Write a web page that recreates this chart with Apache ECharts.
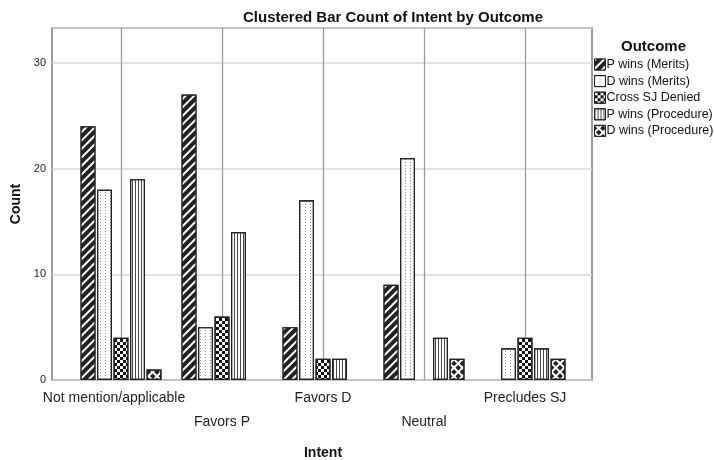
<!DOCTYPE html>
<html>
<head>
<meta charset="utf-8">
<script src="https://cdn.jsdelivr.net/npm/echarts@6/dist/echarts.min.js"></script>
<style>
html,body{margin:0;padding:0;background:#fff;}
#chart{width:714px;height:460px;}
</style>
</head>
<body>
<div id="chart"></div>
<script>
// ---- data ----
var categories = ['Not mention/applicable', 'Favors P', 'Favors D', 'Neutral', 'Precludes SJ'];
var seriesNames = ['P wins (Merits)', 'D wins (Merits)', 'Cross SJ Denied', 'P wins (Procedure)', 'D wins (Procedure)'];
var pWinsMerits    = [24, 27, 5, 9, 0];
var dWinsMerits    = [18, 5, 17, 21, 3];
var crossSJDenied  = [4, 6, 2, 0, 4];
var pWinsProcedure = [19, 14, 2, 4, 3];
var dWinsProcedure = [1, 0, 0, 2, 2];
var yTicks = [0, 10, 20, 30];

var values = [pWinsMerits, dWinsMerits, crossSJDenied, pWinsProcedure, dWinsProcedure];

// ---- styles ----
var fills = ['#222222', '#ffffff', '#ffffff', '#ffffff', '#ffffff'];
var decals = [
  {symbol:'rect', symbolSize:1, color:'#ffffff', dashArrayX:[1,0], dashArrayY:[2,3.5], rotation:-Math.PI/4},
  {symbol:'rect', symbolSize:1, color:'#8a8a8a', dashArrayX:[1,4], dashArrayY:[1,1.5]},
  {symbol:'rect', symbolSize:1, color:'#111111', dashArrayX:[[3,3],[0,3,3,0]], dashArrayY:[3,0]},
  {symbol:'rect', symbolSize:1, color:'#444444', dashArrayX:[1,2], dashArrayY:[4,0]},
  {symbol:'rect', symbolSize:1, color:'#222222', dashArrayX:[3.6,1.1], dashArrayY:[3.6,1.1], rotation:Math.PI/4}
];

var YMAX = 33.3;

var series = values.map(function (arr, k) {
  return {
    name: seriesNames[k],
    type: 'bar',
    xAxisIndex: 1,
    yAxisIndex: 1,
    barWidth: 15,
    barGap: '10%',
    data: arr.map(function (v) { return v === 0 ? '-' : v; }),
    itemStyle: {color: fills[k], borderColor: '#222', borderWidth: 1.2, decal: decals[k]},
    emphasis: {disabled: true},
    animation: false,
    z: 2
  };
});
// vertical reference lines at category centres, in their own overlay grid (drawn under bars)
series.push({
  name: '__grid',
  type: 'line',
  xAxisIndex: 2,
  yAxisIndex: 2,
  data: [],
  silent: true,
  z: 1,
  markLine: {
    silent: true,
    symbol: ['none', 'none'],
    z: 1,
    label: {show: false},
    lineStyle: {color: '#9a9a9a', width: 1.3, type: 'solid'},
    data: categories.map(function (c) { return {xAxis: c}; }),
    animation: false
  }
});

var chart = echarts.init(document.getElementById('chart'), null, {renderer: 'canvas'});
chart.setOption({
  animation: false,
  backgroundColor: '#ffffff',
  textStyle: {fontFamily: 'Liberation Sans, Arial, sans-serif'},
  title: [
    {text: 'Clustered Bar Count of Intent by Outcome', left: 238, top: 5,
     textStyle: {fontSize: 15, fontWeight: 'bold', color: '#111'}},
    {text: 'Outcome', left: 616, top: 34,
     textStyle: {fontSize: 15, fontWeight: 'bold', color: '#111'}}
  ],
  legend: {
    orient: 'vertical', left: 594, top: 58, padding: 0,
    itemWidth: 11, itemHeight: 11, itemGap: 3.6,
    icon: 'rect',
    selectedMode: false,
    itemStyle: {borderColor: '#222', borderWidth: 1},
    textStyle: {fontSize: 12.5, color: '#111', padding: [0, 0, 0, -4]},
    data: seriesNames
  },
  grid: [
    {left: 52, top: 28, width: 540, height: 352, show: true, borderColor: '#666', borderWidth: 1.3,
     backgroundColor: 'transparent', outerBoundsMode: 'none', containLabel: false},
    {left: 70.5, top: 28, width: 505, height: 352, show: false, outerBoundsMode: 'none', containLabel: false},
    {left: 70.5, top: 28, width: 505, height: 352, show: false, outerBoundsMode: 'none', containLabel: false}
  ],
  xAxis: [
    {gridIndex: 0, type: 'value', show: false, min: 0, max: 1},
    {gridIndex: 1, type: 'category', data: categories,
     axisLine: {show: false}, axisTick: {show: false},
     axisLabel: {interval: 0, fontSize: 14, color: '#222', margin: 6, lineHeight: 24,
       formatter: function (v, i) {
         if (i === 0) return '{s|' + v + '}';
         return i % 2 === 1 ? '\n' + v : v;
       },
       rich: {s: {fontSize: 14, color: '#222', lineHeight: 24, padding: [0, 14, 0, 0]}}},
     name: 'Intent', nameLocation: 'middle', nameGap: 66,
     nameTextStyle: {fontSize: 14, fontWeight: 'bold', color: '#111'}},
    {gridIndex: 2, type: 'category', data: categories, show: false}
  ],
  yAxis: [
    {gridIndex: 0, type: 'value', min: 0, max: YMAX, interval: 10,
     axisLine: {show: false}, axisTick: {show: false},
     axisLabel: {fontSize: 11, color: '#222', margin: 6, showMaxLabel: false,
       formatter: function (v) { return yTicks.indexOf(v) >= 0 ? String(v) : ''; }},
     splitLine: {show: true, lineStyle: {color: '#d6d6d6', width: 1.5}},
     name: 'Count', nameLocation: 'middle', nameGap: 26,
     nameTextStyle: {fontSize: 14, fontWeight: 'bold', color: '#111'}},
    {gridIndex: 1, type: 'value', min: 0, max: YMAX, show: false, splitLine: {show: false}},
    {gridIndex: 2, type: 'value', min: 0, max: YMAX, show: false, splitLine: {show: false}}
  ],
  series: series
});
</script>
</body>
</html>
